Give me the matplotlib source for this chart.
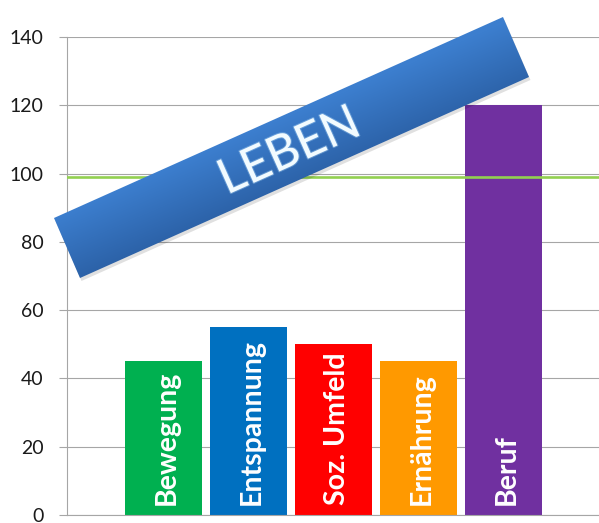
import numpy as np
import matplotlib
matplotlib.use("Agg")
import matplotlib.pyplot as plt
from matplotlib.patches import Polygon
import matplotlib.patheffects as pe

plt.rcParams['font.family'] = ['Lato', 'DejaVu Sans']

# Values per life area
categories = ["Bewegung", "Entspannung", "Soz. Umfeld", "Ernährung", "Beruf"]
values = [45, 55, 50, 45, 120]
colors = ["#00b050", "#0070c0", "#ff0000", "#ff9900", "#7030a0"]
threshold = 99
yticks = [0, 20, 40, 60, 80, 100, 120, 140]

W, H = 599, 523
fig = plt.figure(figsize=(W / 100, H / 100), dpi=100)
fig.patch.set_facecolor("white")

# Main bar axes, placed in pixel units
left, right, bottom, top = 67, 599, 515, 37
ax = fig.add_axes([left / W, (H - bottom) / H, (right - left) / W, (bottom - top) / H])

x = np.arange(len(categories))
ax.bar(x, values, width=0.907, color=colors, zorder=2)
ax.set_xlim(-1.138, 5.128)
ax.set_ylim(0, 140)
ax.set_yticks(yticks)
ax.set_xticks([])
ax.yaxis.grid(True, color="#a6a6a6", linewidth=0.8, zorder=0)
ax.set_axisbelow(True)
for s in ["top", "right"]:
    ax.spines[s].set_visible(False)
for s in ["left", "bottom"]:
    ax.spines[s].set_color("#a6a6a6")
    ax.spines[s].set_linewidth(0.8)
ax.tick_params(axis="y", length=6, color="#a6a6a6", width=0.8, pad=11,
               labelsize=14, labelcolor="#1a1a1a")

# green reference line
ax.axhline(threshold, color="#92d050", linewidth=1.9, zorder=3)

# bar captions
for xi, name in zip(x, categories):
    ax.text(xi + 0.04, 3, name, rotation=90, ha="center", va="bottom",
            color="white", fontsize=20.5, fontweight="bold", zorder=4)

# Overlay in pixel coordinates for the tilted banner
ov = fig.add_axes([0, 0, 1, 1], zorder=5)
ov.set_xlim(0, W)
ov.set_ylim(H, 0)
ov.axis("off")
ov.patch.set_alpha(0)

corners = np.array([[54, 218], [503, 17], [529, 77], [80, 278]], dtype=float)
shadow = Polygon(corners + [1.5, 3], closed=True, facecolor="#000000", alpha=0.12,
                 edgecolor="none")
ov.add_patch(shadow)

banner = Polygon(corners, closed=True, facecolor="none", edgecolor="none")
ov.add_patch(banner)

# gradient across the short side of the banner
u = corners[3] - corners[0]
u = u / np.dot(u, u)
gx, gy = np.meshgrid(np.arange(W) + 0.5, np.arange(H) + 0.5)
t = np.clip((gx - corners[0][0]) * u[0] + (gy - corners[0][1]) * u[1], 0, 1)
c_top = np.array([0x3c, 0x7e, 0xce]) / 255
c_bot = np.array([0x2c, 0x62, 0xa8]) / 255
img = c_top[None, None, :] * (1 - t[..., None]) + c_bot[None, None, :] * t[..., None]
im = ov.imshow(img, extent=(0, W, H, 0), interpolation="bilinear", zorder=2)
im.set_clip_path(banner)

ctr = corners.mean(axis=0)
ang = np.degrees(np.arctan2(corners[0][1] - corners[1][1], corners[1][0] - corners[0][0]))
ov.text(ctr[0] - 2, ctr[1] + 4, "LEBEN", rotation=ang, ha="center", va="center",
        rotation_mode="anchor", color="#f2fbff", fontsize=35, fontweight="normal",
        zorder=3,
        path_effects=[pe.withStroke(linewidth=1.5, foreground="#bfe6ff", alpha=0.35)])

fig.savefig("out.png", dpi=100)
